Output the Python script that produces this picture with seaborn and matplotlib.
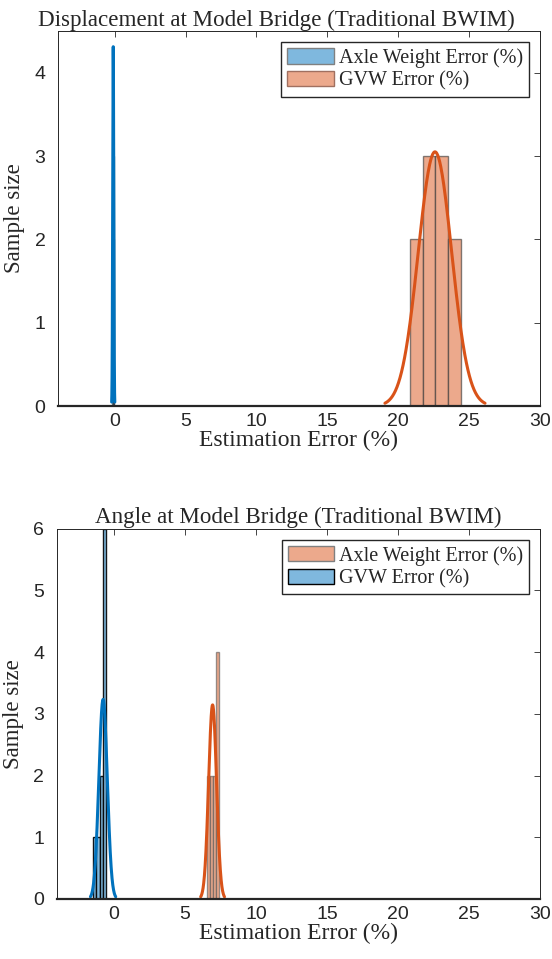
import numpy as np
import pandas as pd
import seaborn as sns
import matplotlib.pyplot as plt
from matplotlib.colors import to_rgb
from matplotlib.patches import Patch

# histogram bins (edges) and counts, plus normal fit (mean, sigma)
# top panel: displacement
disp_axle_edges = [-0.18, -0.14, -0.10, -0.06, -0.02]
disp_axle_counts = [2, 3, 3, 2]
disp_axle_fit = (-0.10, 0.037)

disp_gvw_edges = [20.83, 21.73, 22.63, 23.53, 24.43]
disp_gvw_counts = [2, 3, 3, 2]
disp_gvw_fit = (22.6, 1.177)

# bottom panel: angle
ang_axle_edges = [6.54, 6.76, 6.98, 7.20, 7.42]
ang_axle_counts = [2, 2, 2, 4]
ang_axle_fit = (6.95, 0.279)

ang_gvw_edges = [-1.47, -1.23, -0.99, -0.75, -0.51]
ang_gvw_counts = [1, 1, 2, 6]
ang_gvw_fit = (-0.75, 0.296)

xticks = [0, 5, 10, 15, 20, 25, 30]

BLUE = '#0072BD'
ORANGE = '#D95319'
BLUE_FACE = '#7FB8DE'
ORANGE_FACE = '#ECA98C'

serif = 'Liberation Serif'
sans = 'Liberation Sans'

sns.set_style('white')
plt.rcParams['font.family'] = [sans, 'DejaVu Sans']


def histfit(ax, edges, counts, fit, face, line, edge, ealpha):
    e = np.array(edges)
    df = pd.DataFrame({'x': (e[:-1] + e[1:]) / 2, 'w': counts})
    sns.histplot(data=df, x='x', weights='w', bins=list(edges), ax=ax, color=face,
                 alpha=1.0, edgecolor=(*to_rgb(edge), ealpha),
                 linewidth=1.0, stat='count')
    mu, sd = fit
    n = sum(counts)
    bw = np.mean(np.diff(e))
    xs = np.linspace(mu - 3 * sd, mu + 3 * sd, 200)
    ys = n * bw / (sd * np.sqrt(2 * np.pi)) * np.exp(-0.5 * ((xs - mu) / sd) ** 2)
    sns.lineplot(x=xs, y=ys, ax=ax, color=line, linewidth=2.2)


def style(ax, title, ymax, yticks, title_x=0.5):
    ax.set_xlim(-4, 30)
    ax.set_ylim(0, ymax)
    ax.set_xticks(xticks)
    ax.set_yticks(yticks)
    ax.tick_params(direction='in', top=True, right=True, length=4, width=0.6,
                   labelsize=14, colors='#262626')
    ax.tick_params(axis='x', pad=5)
    ax.tick_params(axis='y', pad=9)
    for s in ax.spines.values():
        s.set_color('#262626')
        s.set_linewidth(0.7)
        s.set_visible(True)
    ax.spines['bottom'].set_linewidth(1.6)
    ax.set_title(title, family=serif, fontsize=16.6, pad=4, x=title_x)
    ax.set_xlabel('Estimation Error (%)', family=serif, fontsize=17, labelpad=0)
    ax.set_ylabel('Sample size', family=serif, fontsize=16.5, labelpad=7)


def legend(ax, handles):
    ax.legend(handles, ['Axle Weight Error (%)', 'GVW Error (%)'],
              loc='upper right', prop={'family': serif, 'size': 14.5}, frameon=True,
              fancybox=False, framealpha=1, edgecolor='#262626', borderpad=0.3,
              handlelength=2.3, handleheight=0.8, handletextpad=0.25, labelspacing=0.15,
              borderaxespad=0.55)


fig = plt.figure(figsize=(5.52, 9.59), dpi=100)
ax1 = fig.add_axes([0.105, 0.5766, 0.873, 0.391])
ax2 = fig.add_axes([0.103, 0.0626, 0.876, 0.386])

histfit(ax1, disp_gvw_edges, disp_gvw_counts, disp_gvw_fit, ORANGE_FACE, ORANGE, '#333333', 0.6)
histfit(ax1, disp_axle_edges, disp_axle_counts, disp_axle_fit, BLUE_FACE, BLUE, '#000000', 0.4)
style(ax1, 'Displacement at Model Bridge (Traditional BWIM)', 4.5, [0, 1, 2, 3, 4], title_x=0.454)
legend(ax1, [Patch(facecolor=BLUE_FACE, edgecolor='#808080'),
             Patch(facecolor=ORANGE_FACE, edgecolor='#a07060')])

histfit(ax2, ang_axle_edges, ang_axle_counts, ang_axle_fit, ORANGE_FACE, ORANGE, '#555555', 0.6)
histfit(ax2, ang_gvw_edges, ang_gvw_counts, ang_gvw_fit, BLUE_FACE, BLUE, '#000000', 0.9)
style(ax2, 'Angle at Model Bridge (Traditional BWIM)', 6, [0, 1, 2, 3, 4, 5, 6])
legend(ax2, [Patch(facecolor=ORANGE_FACE, edgecolor='#808080'),
             Patch(facecolor=BLUE_FACE, edgecolor='#000000')])

fig.savefig('out.png', dpi=100)
